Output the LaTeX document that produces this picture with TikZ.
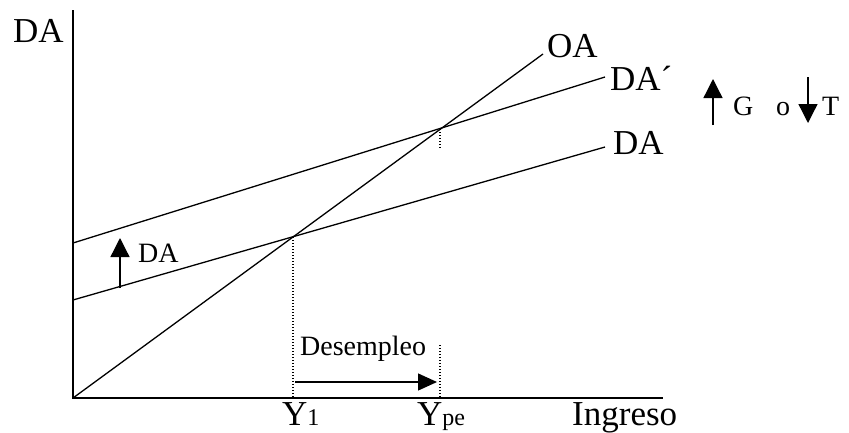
\documentclass[tikz,border=0pt]{standalone}
\usepackage{fontspec}
\setmainfont{Liberation Serif}
\usetikzlibrary{arrows.meta}
\tikzset{
  big/.style={font=\fontsize{35}{35}\selectfont, inner sep=0pt, anchor=base west},
  small/.style={font=\fontsize{28}{28}\selectfont, inner sep=0pt, anchor=base west},
  curve/.style={line width=1.3pt},
  axis/.style={line width=2pt},
  guide/.style={line width=1.2pt, dash pattern=on 1pt off 2pt},
  shift arrow/.style={line width=1.3pt, -{Triangle[length=19pt,width=19pt]}}
}
\begin{document}
\begin{tikzpicture}[x=1pt,y=-1pt]
\useasboundingbox (0,0) rectangle (849,432);
% coordinates
\coordinate (O) at (73,398);
\coordinate (ytop) at (73,10);
\coordinate (xend) at (663,398);
\coordinate (oaend) at (543,54);
\coordinate (da0) at (73,300);
\coordinate (daend) at (605,147);
\coordinate (dp0) at (73,243);
\coordinate (dpend) at (605,77);
\coordinate (E1) at (293,237);
\coordinate (E1b) at (293,398);
\coordinate (E2) at (440,129);
\coordinate (E2a) at (440,148);
\coordinate (E2b) at (440,345);
\coordinate (E2c) at (440,398);
% axes
\draw[axis] (ytop) -- (O) -- (xend);
% curves
\draw[curve] (O) -- (oaend);
\draw[curve] (da0) -- (daend);
\draw[curve] (dp0) -- (dpend);
% guides
\draw[guide] (E1) -- (E1b);
\draw[guide] (E2) -- (E2a);
\draw[guide] (E2b) -- (E2c);
% labels
\node[big] (lDA) at (13,42) {DA};
\node[big] (lOA) at (547,57) {OA};
\node[big] (lDAp) at (610,90) {DA´};
\node[big] (lDA2) at (613,154) {DA};
\node[big] (lIng) at (572,425) {Ingreso};
\node[big] (lY1) at (282,425) {Y{\fontsize{24}{24}\selectfont 1}};
\node[big] (lYpe) at (417,425) {Y{\fontsize{24}{24}\selectfont pe}};
\node[small] (lsDA) at (138,262) {DA};
\node[small] (lDes) at (300,355) {Desempleo};
\node[small] (lG) at (733,115) {G};
\node[small] (lo) at (776,115) {o};
\node[small] (lT) at (822,115) {T};
% arrows
\coordinate (a1s) at (120,288);
\coordinate (a1e) at (120,238);
\draw[shift arrow] (a1s) -- (a1e);
\coordinate (aGs) at (713,125);
\coordinate (aGe) at (713,79);
\draw[shift arrow] (aGs) -- (aGe);
\coordinate (aTs) at (808,77);
\coordinate (aTe) at (808,123);
\draw[shift arrow] (aTs) -- (aTe);
\coordinate (aDs) at (295,382);
\coordinate (aDe) at (437,382);
\draw[line width=1.3pt, -{Triangle[length=19pt,width=17pt]}] (aDs) -- (aDe);
\end{tikzpicture}
\end{document}
